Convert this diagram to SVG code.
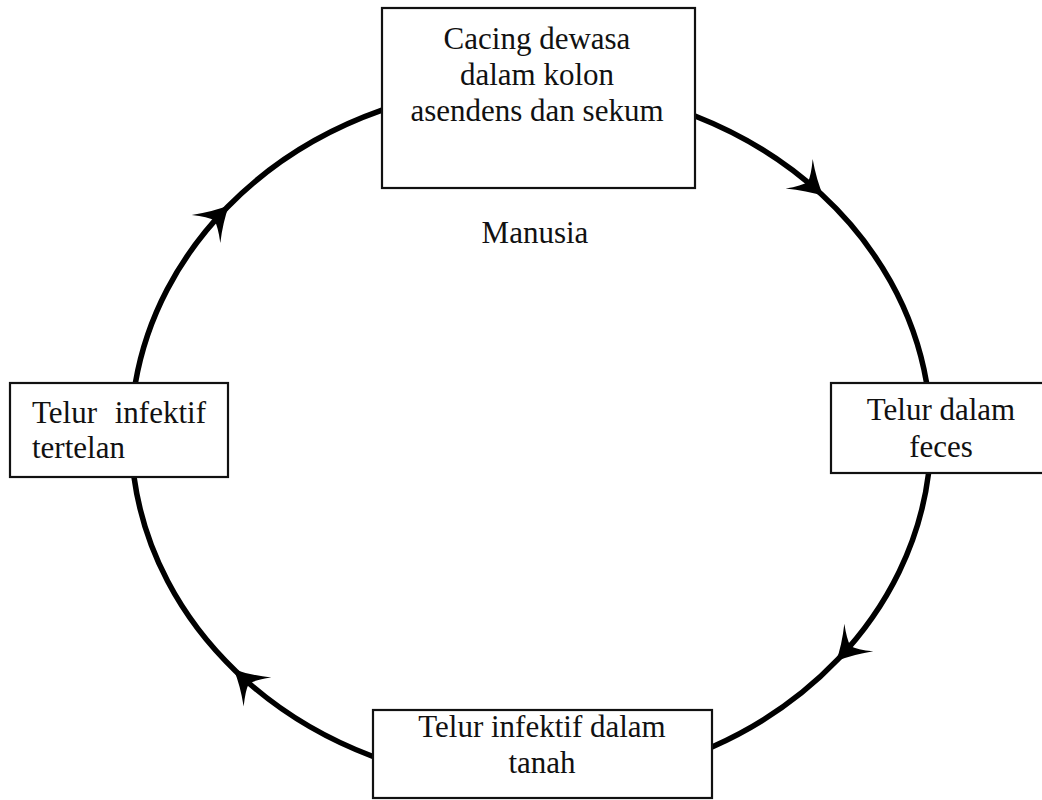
<svg xmlns="http://www.w3.org/2000/svg" width="1042" height="800" viewBox="0 0 1042 800">
<style>
.box{fill:#fff;stroke:#111;stroke-width:2.2}
.t{font-family:"Liberation Serif","Times New Roman",serif;font-size:31px;fill:#111}
.c{text-anchor:middle}
.conn{fill:none;stroke:#000;stroke-width:5.5;marker-mid:url(#ah)}
</style>
<defs>
<marker id="ah" markerUnits="userSpaceOnUse" orient="auto" refX="0" refY="0" markerWidth="40" markerHeight="40" overflow="visible">
<path d="M3,0 Q-13,-7 -30,-20 Q-20,-7 -18,0 Q-20,7 -30,20 Q-13,7 3,0 Z" fill="#000"/>
</marker>
</defs>
<rect width="1042" height="800" fill="#fff"/>
<g id="connectors">
<path class="conn" d="M695,116 A400,350 0 0 1 821.2,194.1 A400,350 0 0 1 926.6,383"/>
<path class="conn" d="M928.6,473 A400,350 0 0 1 838.1,659.2 A400,350 0 0 1 712,747"/>
<path class="conn" d="M373,756.5 A400,350 0 0 1 235.8,671.2 A400,350 0 0 1 134,477"/>
<path class="conn" d="M135.4,383 A400,350 0 0 1 227,207.5 A400,350 0 0 1 382,110.2"/>
</g>
<g id="node-cacing">
<rect class="box" x="382" y="8" width="313" height="180"/>
<text class="t c" x="537" y="49">Cacing dewasa</text>
<text class="t c" x="537" y="85">dalam kolon</text>
<text class="t c" x="537" y="121">asendens dan sekum</text>
</g>
<g id="label-manusia">
<text class="t c" x="535" y="243">Manusia</text>
</g>
<g id="node-feces">
<rect class="box" x="831" y="383" width="214" height="90"/>
<text class="t c" x="941" y="420">Telur dalam</text>
<text class="t c" x="941" y="457">feces</text>
</g>
<g id="node-tanah">
<rect class="box" x="373" y="710" width="339" height="88"/>
<text class="t c" x="542" y="737">Telur infektif dalam</text>
<text class="t c" x="542" y="773">tanah</text>
</g>
<g id="node-tertelan">
<rect class="box" x="10" y="383" width="218" height="94"/>
<text class="t" x="32" y="423" word-spacing="10">Telur infektif</text>
<text class="t" x="32" y="458">tertelan</text>
</g>
</svg>
